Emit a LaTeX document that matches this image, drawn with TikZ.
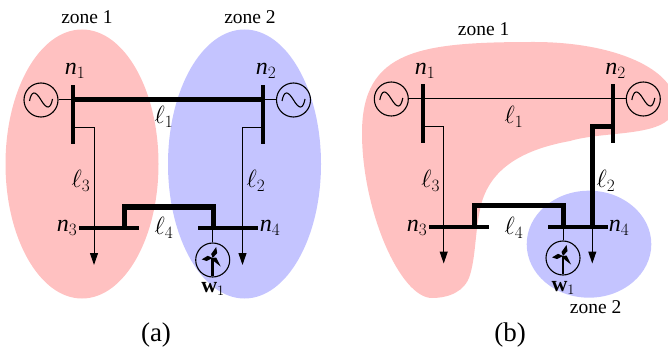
\documentclass[tikz,border=0pt]{standalone}
\usepackage{amsmath}
\usepackage{fontspec}
\setmainfont{Liberation Serif}
\usepackage{tikz}
\usetikzlibrary{arrows.meta}
\definecolor{zonered}{HTML}{FFC1C1}
\definecolor{zoneblue}{HTML}{C4C4FF}
\newcommand{\busname}[2]{$\textit{#1}_{#2}$}
\tikzset{
	busbar/.style={fill=black, inner sep=0pt, outer sep=0pt},
	hbus/.style={busbar, minimum width=60pt, minimum height=4pt},
	vbus/.style={busbar, minimum width=4pt, minimum height=59pt},
	thin line/.style={draw, line width=1pt},
	thick line/.style={draw, line width=5pt},
	load line/.style={thin line, -{Triangle[length=12pt,width=8pt]}},
	gen/.style={circle, draw, line width=1.1pt, minimum size=34pt, inner sep=0pt, fill=none,
		path picture={\draw[line width=1.1pt] (path picture bounding box.center) ++(-11.5pt,-1pt)
			.. controls +(2pt,10pt) and +(-6pt,10pt) .. ++(11.5pt,1pt)
			.. controls +(6pt,-10pt) and +(-2pt,-10pt) .. ++(11.5pt,1pt);}},
	wind/.style={circle, draw, line width=1.1pt, minimum size=34pt, inner sep=0pt,
		path picture={
			\coordinate (hub) at ([yshift=2pt]path picture bounding box.center);
			\draw[line width=2.6pt] (hub) -- ++(0pt,-18pt);
			\fill (hub) -- ++(-5pt,2.2pt) -- ++(-6pt,-3.6pt) -- ++(5pt,-1.6pt) -- cycle;
			\fill (hub) -- ++(-1.5pt,4pt) -- ++(5pt,7pt) -- ++(1pt,-6pt) -- cycle;
			\fill (hub) -- ++(3.5pt,0.5pt) -- ++(4.5pt,-9pt) -- ++(-6.5pt,5pt) -- cycle;}},
	label text/.style={font=\fontsize{24}{24}\selectfont, inner sep=0pt},
	zone text/.style={font=\fontsize{19.5}{20}\selectfont, inner sep=0pt},
	panel text/.style={font=\fontsize{27}{27}\selectfont, inner sep=0pt},
	wind text/.style={font=\fontsize{22}{22}\selectfont\bfseries, inner sep=0pt}
}

\begin{document}
\begin{tikzpicture}[x=1pt, y=-1pt]
	\useasboundingbox (0,0) rectangle (668,347);

	% zones of (a)
	\fill[zonered] (82,164) ellipse [x radius=76.5, y radius=134.5];
	\fill[zoneblue] (244.5,164) ellipse [x radius=76.5, y radius=134.5];

	% zones of (b)
	\fill[zonered] (362,133)
		.. controls (362,50) and (420,42) .. (534,42)
		.. controls (600,42) and (650,60) .. (668,84)
		-- (668,120)
		.. controls (650,136) and (600,132) .. (570,141)
		.. controls (520,150) and (490,170) .. (481,205)
		.. controls (475,230) and (476,255) .. (470,275)
		.. controls (465,292) and (448,298) .. (432,298)
		.. controls (400,298) and (362,210) .. (362,133) -- cycle;
	\fill[zoneblue] (589,244.2) ellipse [x radius=62.3, y radius=53.5];

	% network (a)
	\node[vbus] (n1a) at (73,115) {};
	\node[vbus] (n2a) at (263,115) {};
	\node[hbus] (n3a) at (109,227.5) {};
	\node[hbus] (n4a) at (228,227.5) {};
	\node[gen] (g1a) at (41,100) {};
	\node[gen] (g2a) at (293.5,100) {};
	\node[wind] (w1a) at (212.7,260) {};
	\coordinate (e3a) at (94,265);
	\coordinate (e2a) at (242.5,265);

	\draw[thin line] (g1a) -- (g1a -| n1a);
	\draw[thin line] (g2a) -- (g2a -| n2a);
	\draw[thick line] (g1a -| n1a) -- (g2a -| n2a);
	\draw[load line] (73,128) -| (e3a);
	\draw[load line] (263,128) -| (e2a);
	\draw[thick line] (124,227.5) |- (213,207) -- (213,227.5);
	\draw[thin line] (w1a) -- (w1a |- n4a);

	\node[zone text] at (87,17) {zone 1};
	\node[zone text] at (250,17) {zone 2};
	\node[label text] at (75,71) {\busname{n}{1}};
	\node[label text] at (266,71) {\busname{n}{2}};
	\node[label text] at (67,228) {\busname{n}{3}};
	\node[label text] at (270,228) {\busname{n}{4}};
	\node[label text] at (164,117) {$\ell_1$};
	\node[label text] at (256,181) {$\ell_2$};
	\node[label text] at (81,181) {$\ell_3$};
	\node[label text] at (164,228) {$\ell_4$};
	\node[wind text] at (213,289) {w$_1$};
	\node[panel text] at (156,335) {(a)};

	% network (b)
	\node[vbus] (n1b) at (423,113.5) {};
	\node[vbus] (n2b) at (613,113.5) {};
	\node[hbus] (n3b) at (459,226.7) {};
	\node[hbus] (n4b) at (578,226.7) {};
	\node[gen] (g1b) at (391.3,99) {};
	\node[gen] (g2b) at (643.3,99) {};
	\node[wind] (w1b) at (563,258) {};
	\coordinate (e3b) at (443.7,263.5);
	\coordinate (e2b) at (592.3,263.5);

	\draw[thin line] (g1b) -- (g2b);
	\draw[load line] (423,127) -| (e3b);
	\draw[thick line] (613,127) -| (592.3,226.7);
	\draw[load line] (592.3,226.7) -- (e2b);
	\draw[thick line] (474,226.7) |- (563,205.7) -- (563,226.7);
	\draw[thin line] (w1b) -- (w1b |- n4b);

	\node[zone text] at (483.7,29) {zone 1};
	\node[zone text] at (595.7,307) {zone 2};
	\node[label text] at (425,71) {\busname{n}{1}};
	\node[label text] at (615.7,71) {\busname{n}{2}};
	\node[label text] at (417,228) {\busname{n}{3}};
	\node[label text] at (619,228) {\busname{n}{4}};
	\node[label text] at (514,117) {$\ell_1$};
	\node[label text] at (606,181) {$\ell_2$};
	\node[label text] at (430.7,181) {$\ell_3$};
	\node[label text] at (514,228) {$\ell_4$};
	\node[wind text] at (563.3,288) {w$_1$};
	\node[panel text] at (510,335) {(b)};
\end{tikzpicture}
\end{document}
